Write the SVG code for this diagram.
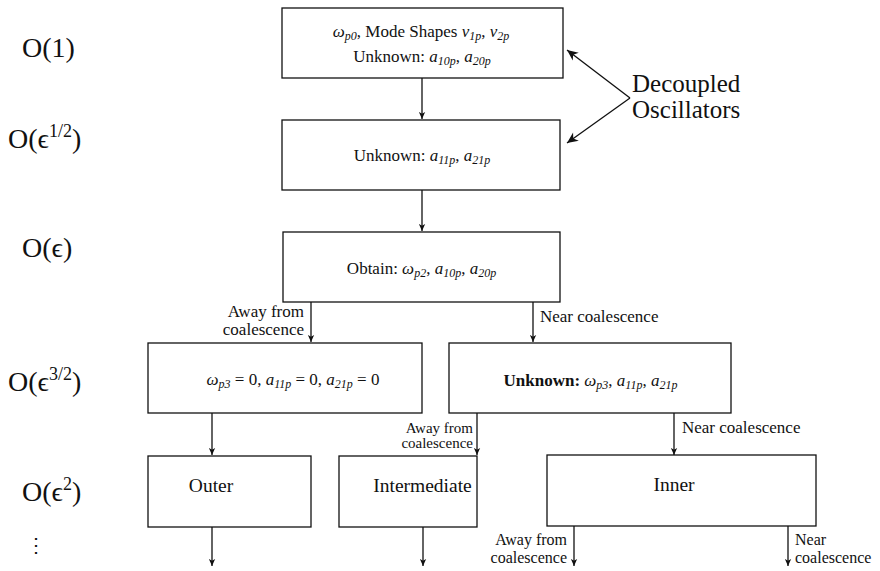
<svg xmlns="http://www.w3.org/2000/svg" width="880" height="571" viewBox="0 0 880 571" font-family="'Liberation Serif', 'Times New Roman', 'DejaVu Serif', serif">
<style>
  text { font-family: 'Liberation Serif', 'Times New Roman', 'DejaVu Serif', serif; fill: #111; }
  .box { fill: #fff; stroke: #111; stroke-width: 1.3; }
  .t { font-size: 17px; text-anchor: middle; }
  .tb { font-size: 19.5px; text-anchor: middle; }
  .i { font-style: italic; }
  .s { font-size: 12px; font-style: italic; }
  .lvl { font-size: 28px; }
  .sup { font-size: 18px; }
  .lab { font-size: 17px; }
  .lab2 { font-size: 15px; }
  .lab3 { font-size: 16px; }
  .r { text-anchor: end; }
  .big { font-size: 25px; }
  .c line { stroke: #111; stroke-width: 1.3; fill: none; marker-end: url(#ah); }
</style>
<defs>
  <marker id="ah" viewBox="0 0 10 10" refX="10" refY="5" markerWidth="10" markerHeight="7" markerUnits="userSpaceOnUse" orient="auto">
    <path d="M0,0.5 L10,5 L0,9.5 L2.5,5 Z" fill="#111"/>
  </marker>
  <marker id="ah2" viewBox="0 0 10 10" refX="10" refY="5" markerWidth="14" markerHeight="11" markerUnits="userSpaceOnUse" orient="auto">
    <path d="M0,0.5 L10,5 L0,9.5 L3,5 Z" fill="#111"/>
  </marker>
</defs>

<g id="levels">
  <text class="lvl" x="22" y="57">O(1)</text>
  <text class="lvl" x="8" y="148">O(ϵ<tspan class="sup" dy="-11">1/2</tspan><tspan dy="11">)</tspan></text>
  <text class="lvl" x="22" y="257">O(ϵ)</text>
  <text class="lvl" x="8" y="391">O(ϵ<tspan class="sup" dy="-11">3/2</tspan><tspan dy="11">)</tspan></text>
  <text class="lvl" x="22" y="501">O(ϵ<tspan class="sup" dy="-11">2</tspan><tspan dy="11">)</tspan></text>
  <text x="26" y="552" style="font-size:20px">⋮</text>
</g>

<g id="connectors" class="c">
  <line x1="422" y1="78" x2="422" y2="119"/>
  <line x1="422" y1="190" x2="422" y2="231"/>
  <line x1="311" y1="302" x2="311" y2="342"/>
  <line x1="533" y1="302" x2="533" y2="342"/>
  <line x1="212" y1="413" x2="212" y2="455"/>
  <line x1="477" y1="413" x2="477" y2="455"/>
  <line x1="674" y1="413" x2="674" y2="455"/>
  <line x1="212" y1="527" x2="212" y2="566"/>
  <line x1="423" y1="527" x2="423" y2="566"/>
  <line x1="574" y1="526" x2="574" y2="566"/>
  <line x1="788" y1="526" x2="788" y2="566"/>
  <line x1="630" y1="98" x2="567" y2="50" style="marker-end:url(#ah2)"/>
  <line x1="630" y1="98" x2="567" y2="143" style="marker-end:url(#ah2)"/>
</g>

<g id="decoupled">
  <text class="big" x="632" y="92">Decoupled</text>
  <text class="big" x="632" y="118">Oscillators</text>
</g>

<g id="n1">
  <rect class="box" x="282" y="8" width="281" height="70"/>
  <text class="t" x="421" y="37"><tspan class="i">ω</tspan><tspan class="s" dy="3">p0</tspan><tspan dy="-3">, Mode Shapes </tspan><tspan class="i">v</tspan><tspan class="s" dy="3">1p</tspan><tspan dy="-3">, </tspan><tspan class="i">v</tspan><tspan class="s" dy="3">2p</tspan></text>
  <text class="t" x="422" y="62">Unknown: <tspan class="i">a</tspan><tspan class="s" dy="3">10p</tspan><tspan dy="-3">, </tspan><tspan class="i">a</tspan><tspan class="s" dy="3">20p</tspan></text>
</g>

<g id="n2">
  <rect class="box" x="282" y="120" width="278" height="70"/>
  <text class="t" x="422" y="161">Unknown: <tspan class="i">a</tspan><tspan class="s" dy="3">11p</tspan><tspan dy="-3">, </tspan><tspan class="i">a</tspan><tspan class="s" dy="3">21p</tspan></text>
</g>

<g id="n3">
  <rect class="box" x="283" y="232" width="277" height="70"/>
  <text class="t" x="421.5" y="274">Obtain: <tspan class="i">ω</tspan><tspan class="s" dy="3">p2</tspan><tspan dy="-3">, </tspan><tspan class="i">a</tspan><tspan class="s" dy="3">10p</tspan><tspan dy="-3">, </tspan><tspan class="i">a</tspan><tspan class="s" dy="3">20p</tspan></text>
  <text class="lab r" x="304" y="317">Away from</text>
  <text class="lab r" x="304" y="335">coalescence</text>
  <text class="lab" x="540" y="322">Near coalescence</text>
</g>

<g id="n4a">
  <rect class="box" x="148" y="343" width="274" height="70"/>
  <text class="t" x="293" y="385"><tspan class="i">ω</tspan><tspan class="s" dy="3">p3</tspan><tspan dy="-3"> = 0, </tspan><tspan class="i">a</tspan><tspan class="s" dy="3">11p</tspan><tspan dy="-3"> = 0, </tspan><tspan class="i">a</tspan><tspan class="s" dy="3">21p</tspan><tspan dy="-3"> = 0</tspan></text>
</g>

<g id="n4b">
  <rect class="box" x="449" y="343" width="282" height="70"/>
  <text class="t" x="590.5" y="386"><tspan font-weight="bold">Unknown:</tspan> <tspan class="i">ω</tspan><tspan class="s" dy="3">p3</tspan><tspan dy="-3">, </tspan><tspan class="i">a</tspan><tspan class="s" dy="3">11p</tspan><tspan dy="-3">, </tspan><tspan class="i">a</tspan><tspan class="s" dy="3">21p</tspan></text>
  <text class="lab2 r" x="473" y="433">Away from</text>
  <text class="lab2 r" x="473" y="448">coalescence</text>
  <text class="lab" x="682" y="433">Near coalescence</text>
</g>

<g id="outer">
  <rect class="box" x="148" y="456" width="163" height="71"/>
  <text class="tb" x="211" y="492">Outer</text>
</g>

<g id="intermediate">
  <rect class="box" x="339" y="456" width="138" height="71"/>
  <text class="tb" x="422.5" y="492">Intermediate</text>
</g>

<g id="inner">
  <rect class="box" x="547" y="455" width="269" height="71"/>
  <text class="tb" x="674" y="491">Inner</text>
  <text class="lab3 r" x="567" y="545">Away from</text>
  <text class="lab3 r" x="567" y="563">coalescence</text>
  <text class="lab3" x="795" y="545">Near</text>
  <text class="lab3" x="795" y="563">coalescence</text>
</g>
</svg>
